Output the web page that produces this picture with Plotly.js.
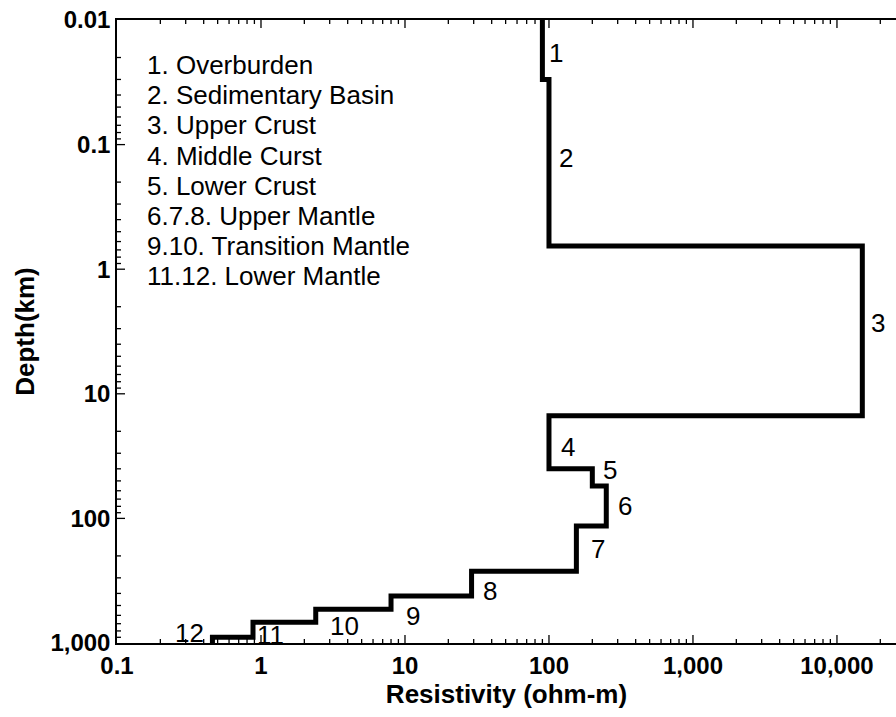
<!DOCTYPE html>
<html>
<head>
<meta charset="utf-8">
<script src="https://cdn.plot.ly/plotly-3.0.1.min.js"></script>
<style>html,body{margin:0;padding:0;background:#fff;}#chart{width:896px;height:717px;}</style>
</head>
<body>
<div id="chart"></div>
<script>
// ---- data ----
const layerLabels = ['1','2','3','4','5','6','7','8','9','10','11','12'];
const resistivity = [90, 100, 15000, 100, 200, 250, 155, 29, 8, 2.4, 0.88, 0.46];
const bottomDepth = [0.03, 0.65, 15, 40, 55, 115, 265, 420, 535, 680, 900, 1000];
const surfaceDepth = 0.01;
const legendLines = ['1. Overburden','2. Sedimentary Basin','3. Upper Crust','4. Middle Curst',
  '5. Lower Crust','6.7.8. Upper Mantle','9.10. Transition Mantle','11.12. Lower Mantle'];
const xTickVals = [0.1, 1, 10, 100, 1000, 10000];
const xTickText = ['0.1','1','10','100','1,000','10,000'];
const yTickVals = [0.01, 0.1, 1, 10, 100, 1000];
const yTickText = ['0.01','0.1','1','10','100','1,000'];

// ---- label placement (style: px offsets; dy positive = up) ----
const labelStyle = [
  {dx:5, dy:-3},{dx:8, dy:5},{dx:7, dy:8},{dx:10, dy:-5},{dx:9, dy:7},{dx:10, dy:0},
  {dx:13, dy:0},{dx:9, dy:-7},{dx:13, dy:-13},{dx:12, dy:-10},{dx:2, dy:-5},{dx:-6, dy:7, right:true}
];

const X_RANGE = [-1, 4.41];   // log10 units
const Y_RANGE = [3, -2];      // log10 units, reversed (depth increases downward)
const plotTop = 20, plotH = 623, plotL = 117, plotW = 779;
const pxPerDecX = plotW / (X_RANGE[1] - X_RANGE[0]);
const pxPerDecY = plotH / (Y_RANGE[0] - Y_RANGE[1]);

// ---- step profile ----
const px = [], py = [];
let layerTop = surfaceDepth;
for (let i = 0; i < resistivity.length; i++) {
  px.push(resistivity[i], resistivity[i]);
  py.push(layerTop, bottomDepth[i]);
  layerTop = bottomDepth[i];
}

const FONT = 'Liberation Sans, Arial, sans-serif';
const annotations = [];
layerTop = surfaceDepth;
for (let i = 0; i < layerLabels.length; i++) {
  const mid = Math.pow(10, (Math.log10(layerTop) + Math.log10(bottomDepth[i])) / 2);
  const s = labelStyle[i];
  annotations.push({
    x: Math.log10(resistivity[i]), y: Math.log10(mid), xref:'x', yref:'y',
    text: layerLabels[i], showarrow:false,
    xanchor: s.right ? 'right' : 'left', yanchor:'middle',
    xshift: s.dx, yshift: s.dy,
    font:{family:FONT, size:26, color:'#000'}
  });
  layerTop = bottomDepth[i];
}

legendLines.forEach((t, i) => {
  const ypx = 65 + i * 30.2;
  annotations.push({
    xref:'paper', yref:'paper', x: (145 - plotL) / plotW, y: 1 - (ypx - plotTop) / plotH,
    xanchor:'left', yanchor:'middle', showarrow:false, text:t,
    font:{family:FONT, size:26, color:'#000'}
  });
});

// ---- tick marks (drawn as thin line traces through the axes' own scales) ----
const MAJ = 8, MIN = 4;
const xEdgeLo = Math.pow(10, X_RANGE[0]), xEdgeHi = Math.pow(10, X_RANGE[1]);
const yEdgeTop = Math.pow(10, Y_RANGE[1]), yEdgeBot = Math.pow(10, Y_RANGE[0]);
const botX = [], botY = [], topX = [], topY = [], leftX = [], leftY = [];
function xTickMarks(v, len) {
  if (v <= xEdgeLo * 1.0001 || v >= xEdgeHi) return;
  botX.push(v, v, null); botY.push(yEdgeBot, Math.pow(10, Y_RANGE[0] - len / pxPerDecY), null);
  topX.push(v, v, null); topY.push(yEdgeTop, Math.pow(10, Y_RANGE[1] + len / pxPerDecY), null);
}
function yTickMarks(v, len) {
  if (v <= yEdgeTop * 1.0001 || v >= yEdgeBot * 0.9999) return;
  leftX.push(xEdgeLo, Math.pow(10, X_RANGE[0] + len / pxPerDecX), null); leftY.push(v, v, null);
}
for (let e = -1; e <= 4; e++) {
  xTickMarks(Math.pow(10, e), MAJ);
  for (let k = 2; k <= 9; k++) xTickMarks(k * Math.pow(10, e), MIN);
}
for (let e = -2; e <= 3; e++) {
  yTickMarks(Math.pow(10, e), MAJ);
  for (let k = 2; k <= 9; k++) yTickMarks(k * Math.pow(10, e), MIN);
}
const tickStyle = {color:'#000', width:1.3};
const tickTraces = [
  {x: botX, y: botY, type:'scatter', mode:'lines', line:tickStyle, hoverinfo:'skip', connectgaps:false},
  {x: leftX, y: leftY, type:'scatter', mode:'lines', line:tickStyle, hoverinfo:'skip', connectgaps:false},
  {x: topX, y: topY, xaxis:'x2', type:'scatter', mode:'lines', line:tickStyle, hoverinfo:'skip', connectgaps:false}
];

const profileTrace = {
  x: px, y: py, type:'scatter', mode:'lines',
  line:{color:'#000', width:5},
  hoverinfo:'skip'
};

const tickFont = {family:FONT, size:24, color:'#000', weight:'bold'};
const titleFont = {family:FONT, size:26, color:'#000', weight:'bold'};

const layout = {
  width: 896, height: 717,
  margin: {l: plotL, r: 0, t: plotTop, b: 717 - plotTop - plotH},
  showlegend:false,
  xaxis: {
    type:'log', range:X_RANGE,
    tickmode:'array', tickvals:xTickVals, ticktext:xTickText, ticks:'',
    showline:true, linecolor:'#000', linewidth:1.5,
    showgrid:false, zeroline:false,
    tickfont: tickFont,
    title:{text:'Resistivity (ohm-m)', font:titleFont, standoff:4}
  },
  xaxis2: {
    type:'log', range:X_RANGE, overlaying:'x', side:'top', anchor:'y',
    showline:true, linecolor:'#000', linewidth:1.5,
    showticklabels:false, ticks:'', showgrid:false, zeroline:false
  },
  yaxis: {
    type:'log', range:Y_RANGE,
    tickmode:'array', tickvals:yTickVals, ticktext:yTickText, ticks:'',
    showline:true, linecolor:'#000', linewidth:1.5,
    showgrid:false, zeroline:false,
    tickfont: tickFont,
    title:{text:'Depth(km)', font:titleFont, standoff:8}
  },
  annotations: annotations
};

Plotly.newPlot('chart', [profileTrace].concat(tickTraces), layout, {displayModeBar:false});
</script>
</body>
</html>
